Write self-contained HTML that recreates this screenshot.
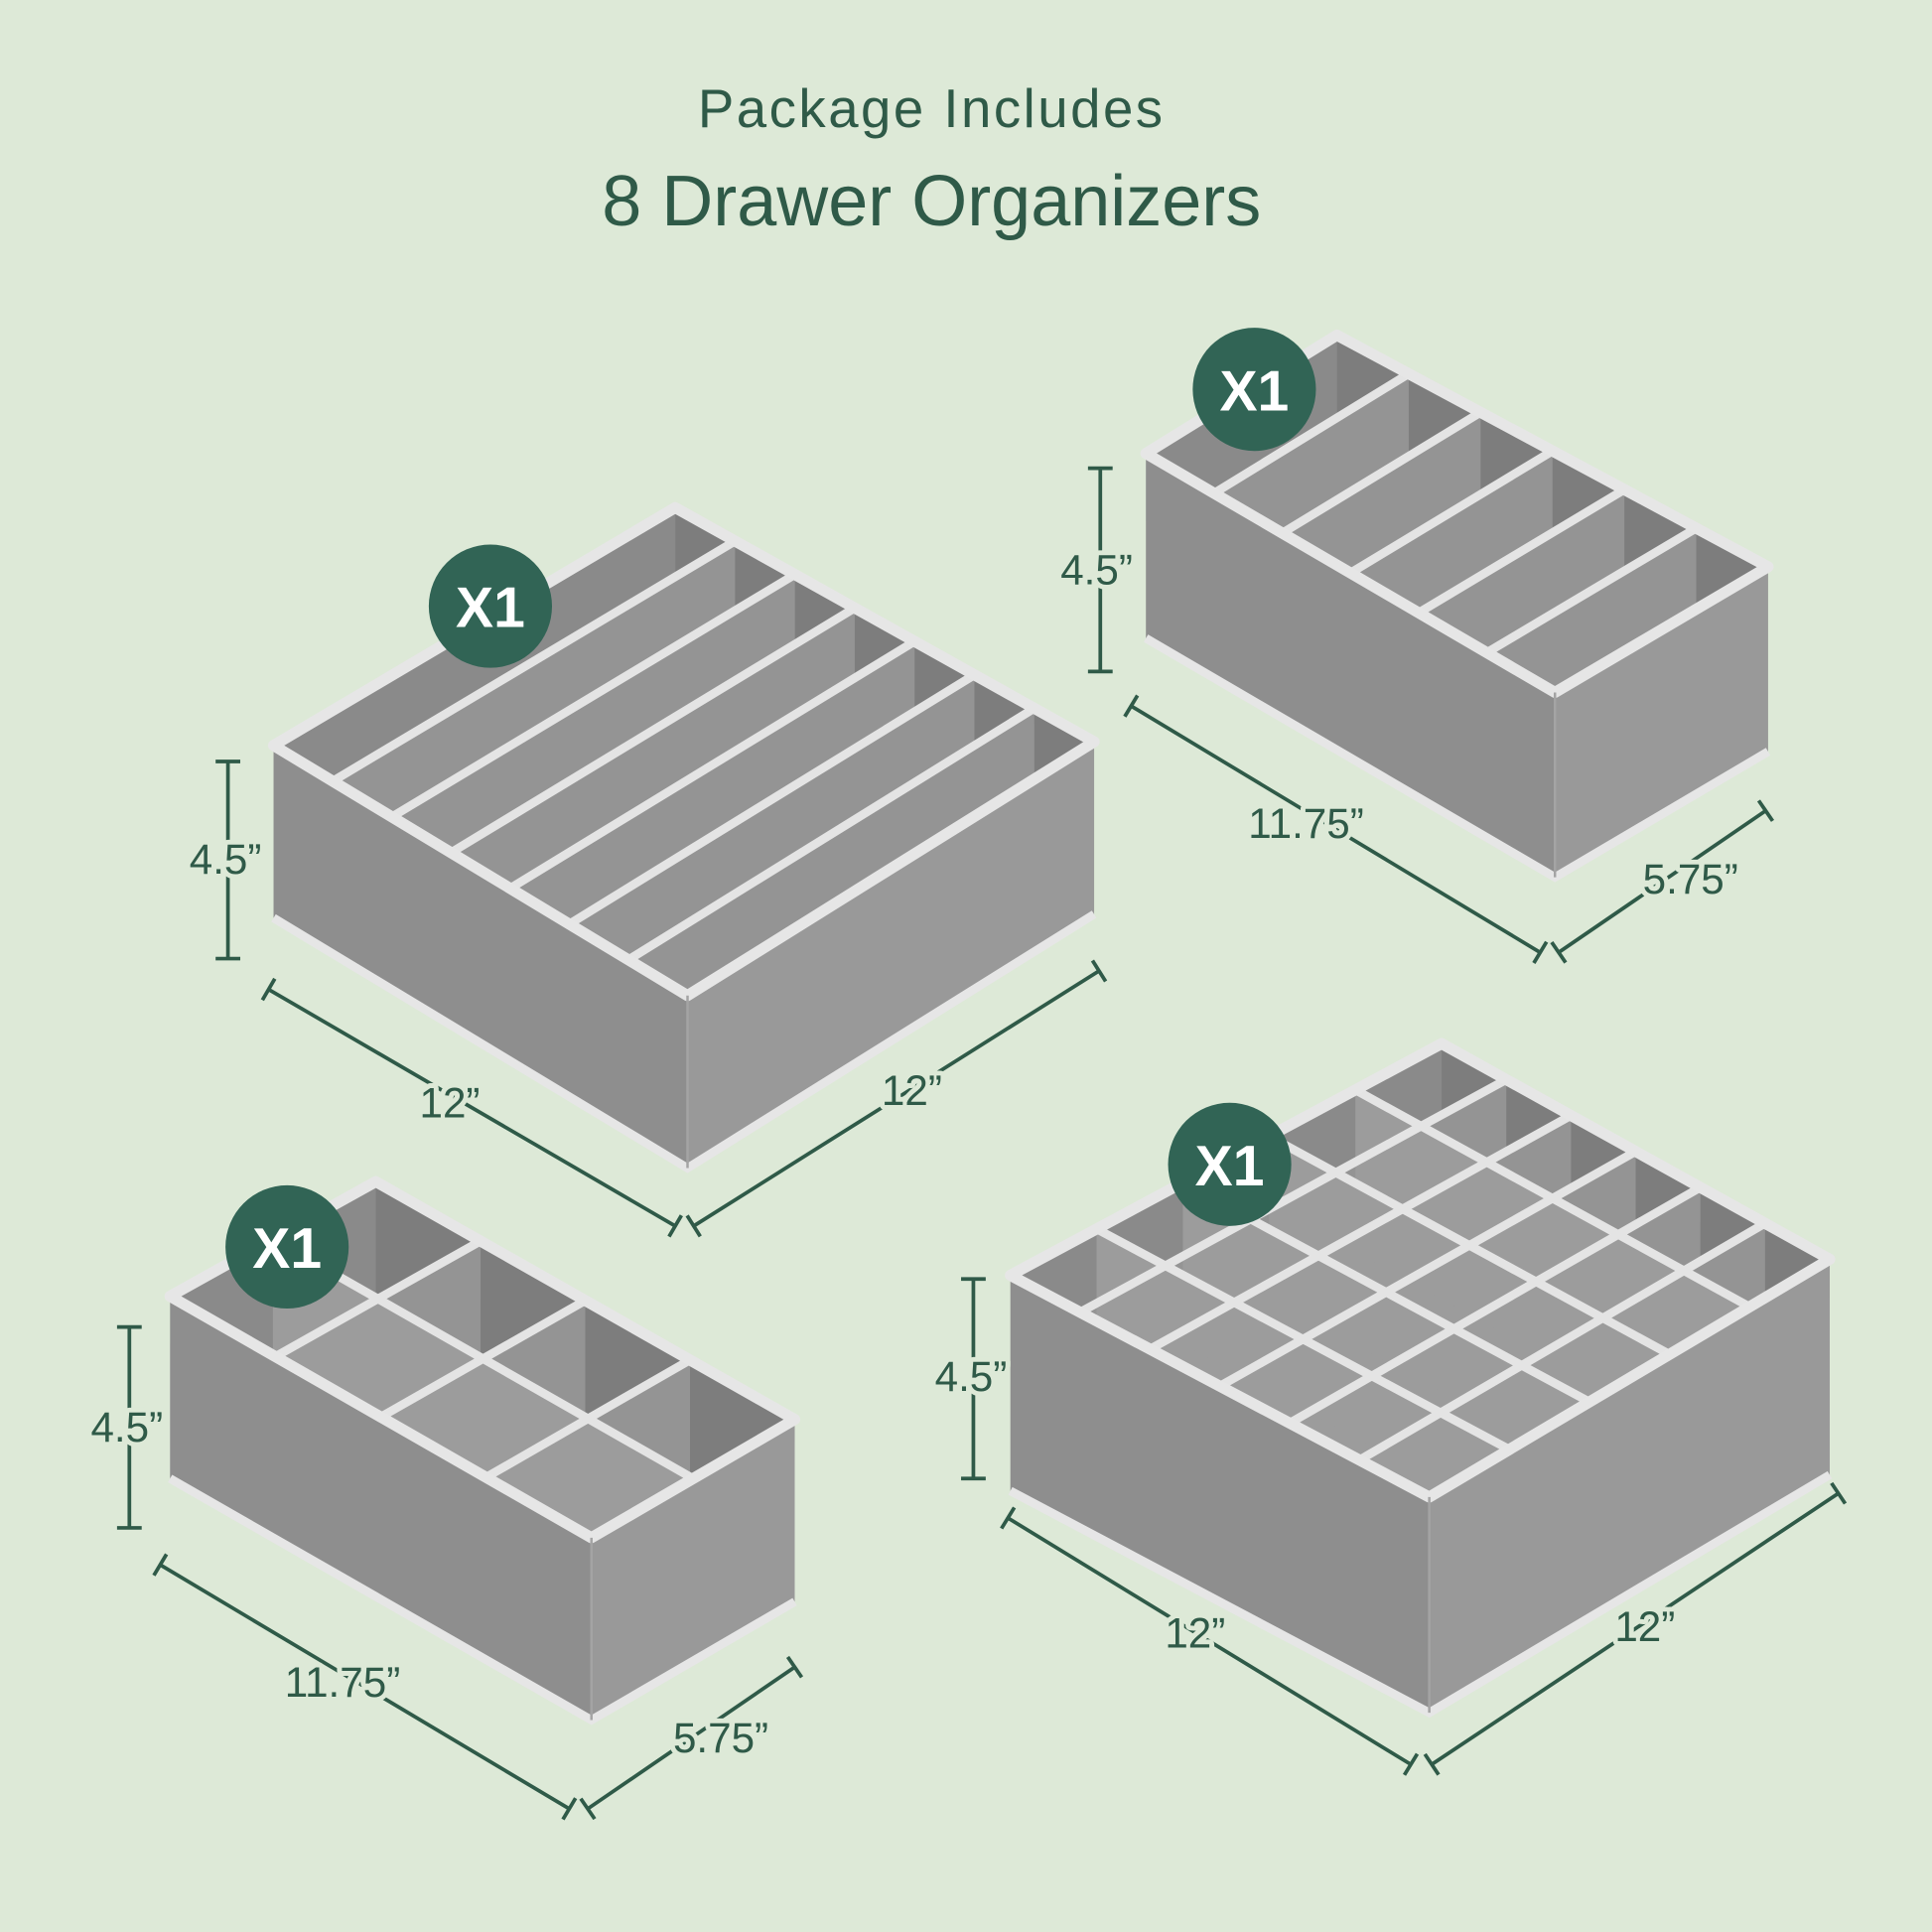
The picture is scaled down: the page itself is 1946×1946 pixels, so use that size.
<!DOCTYPE html>
<html><head><meta charset="utf-8"><style>
html,body{margin:0;padding:0;background:#dde9d7;}
svg{display:block}
</style></head><body>
<svg id="s" width="1946" height="1946" viewBox="0 0 1568 1568" xmlns="http://www.w3.org/2000/svg">
<defs id="defs"></defs>
<rect width="1568" height="1568" fill="#dde9d7"/>
<text x="756" y="103" text-anchor="middle" font-family="Liberation Sans, sans-serif" font-size="44" letter-spacing="2" fill="#2f5a48">Package Includes</text>
<text x="756" y="183" text-anchor="middle" font-family="Liberation Sans, sans-serif" font-size="58" fill="#2f5a48">8 Drawer Organizers</text>
<g id="boxes"></g>
<g id="dims" stroke="#2f5a48" stroke-width="3" fill="none"></g>
<g id="labels" font-family="Liberation Sans, sans-serif" font-size="34" fill="#2f5a48" text-anchor="middle" stroke="#dde9d7" stroke-width="8" paint-order="stroke" stroke-linejoin="round"></g>
<g id="badges"></g>
</svg>
<script>
var NS="http://www.w3.org/2000/svg";
function mk(parent,t,a,txt){var e=document.createElementNS(NS,t);for(var k in a)e.setAttribute(k,a[k]);if(txt)e.textContent=txt;parent.appendChild(e);return e;}
function el(p,t,a,txt){return mk(document.getElementById(p),t,a,txt);}
function pts(a){return a.map(function(p){return p[0]+","+p[1]}).join(" ");}
function lerp(a,b,t){return [a[0]+(b[0]-a[0])*t,a[1]+(b[1]-a[1])*t];}
function dn(p,h){return [p[0],p[1]+h];}
var cid=0;
function box(L,B,R,F,h,nu,nv){
  cid++;
  var cp=mk(document.getElementById("defs"),"clipPath",{id:"c"+cid});
  mk(cp,"polygon",{points:pts([L,B,R,F])});
  var g=el("boxes","g",{"clip-path":"url(#c"+cid+")"});
  var d=h*0.75;
  mk(g,"polygon",{points:pts([L,B,R,F]),fill:"#a9a9a9"});
  mk(g,"polygon",{points:pts([L,B,dn(B,d),dn(L,d)]),fill:"#8a8a8a"});
  mk(g,"polygon",{points:pts([B,R,dn(R,d),dn(B,d)]),fill:"#7d7d7d"});
  mk(g,"polygon",{points:pts([dn(L,d),dn(B,d),dn(R,d),dn(F,d)]),fill:"#b0b0b0"});
  var i,t,a,b;
  for(i=1;i<=nu;i++){t=i/(nu+1);a=lerp(L,F,t);b=lerp(B,R,t);
    mk(g,"polygon",{points:pts([a,b,dn(b,d),dn(a,d)]),fill:"#949494"});}
  for(i=1;i<=nv;i++){t=i/(nv+1);a=lerp(L,B,t);b=lerp(F,R,t);
    mk(g,"polygon",{points:pts([a,b,dn(b,d),dn(a,d)]),fill:"#9c9c9c"});}
  for(i=1;i<=nu;i++){t=i/(nu+1);a=lerp(L,F,t);b=lerp(B,R,t);
    mk(g,"line",{x1:a[0],y1:a[1],x2:b[0],y2:b[1],stroke:"#e4e4e4","stroke-width":7});}
  for(i=1;i<=nv;i++){t=i/(nv+1);a=lerp(L,B,t);b=lerp(F,R,t);
    mk(g,"line",{x1:a[0],y1:a[1],x2:b[0],y2:b[1],stroke:"#e4e4e4","stroke-width":7});}
  el("boxes","polygon",{points:pts([L,F,dn(F,h),dn(L,h)]),fill:"#8e8e8e"});
  el("boxes","polygon",{points:pts([F,R,dn(R,h),dn(F,h)]),fill:"#999"});
  el("boxes","polygon",{points:pts([L,B,R,F]),fill:"none",stroke:"#e6e6e6","stroke-width":9,"stroke-linejoin":"round"});
  el("boxes","polyline",{points:pts([dn(L,h),dn(F,h),dn(R,h)]),fill:"none",stroke:"#e6e6e6","stroke-width":7});
  el("boxes","line",{x1:F[0],y1:F[1],x2:F[0],y2:F[1]+h,stroke:"#a4a4a4","stroke-width":2});
}
box([222,605],[548,412],[888,602],[558,808],140,6,0);
box([930,368],[1085,272],[1435,460],[1262,562],150,5,0);
box([138,1052],[305,959],[645,1152],[480,1248],148,3,1);
box([820,1035],[1170,847],[1485,1022],[1160,1215],175,5,4);
function dim(x1,y1,x2,y2,lx,ly,txt){
  el("dims","line",{x1:x1,y1:y1,x2:x2,y2:y2});
  var dx=x2-x1,dy=y2-y1,len=Math.sqrt(dx*dx+dy*dy),nx=-dy/len*10,ny=dx/len*10;
  el("dims","line",{x1:x1-nx,y1:y1-ny,x2:x1+nx,y2:y1+ny});
  el("dims","line",{x1:x2-nx,y1:y2-ny,x2:x2+nx,y2:y2+ny});
  el("labels","text",{x:lx,y:ly+12},txt);
}
dim(185,618,185,778,183,697,"4.5\u201D");
dim(218,803,548,995,365,895,"12\u201D");
dim(563,995,892,788,740,885,"12\u201D");
dim(893,380,893,545,890,462,"4.5\u201D");
dim(918,573,1250,773,1060,668,"11.75\u201D");
dim(1265,773,1433,658,1372,713,"5.75\u201D");
dim(105,1077,105,1240,103,1158,"4.5\u201D");
dim(130,1270,462,1468,278,1365,"11.75\u201D");
dim(477,1468,645,1353,585,1410,"5.75\u201D");
dim(790,1038,790,1200,788,1117,"4.5\u201D");
dim(818,1232,1145,1432,970,1325,"12\u201D");
dim(1162,1432,1492,1212,1335,1320,"12\u201D");
[[398,492],[1018,316],[233,1012],[998,945]].forEach(function(c){
  el("badges","circle",{cx:c[0],cy:c[1],r:50,fill:"#316455"});
  el("badges","text",{x:c[0],y:c[1]+17,"text-anchor":"middle","font-family":"Liberation Sans, sans-serif","font-weight":"bold","font-size":46,fill:"#fff"},"X1");
});
</script>
</body></html>
